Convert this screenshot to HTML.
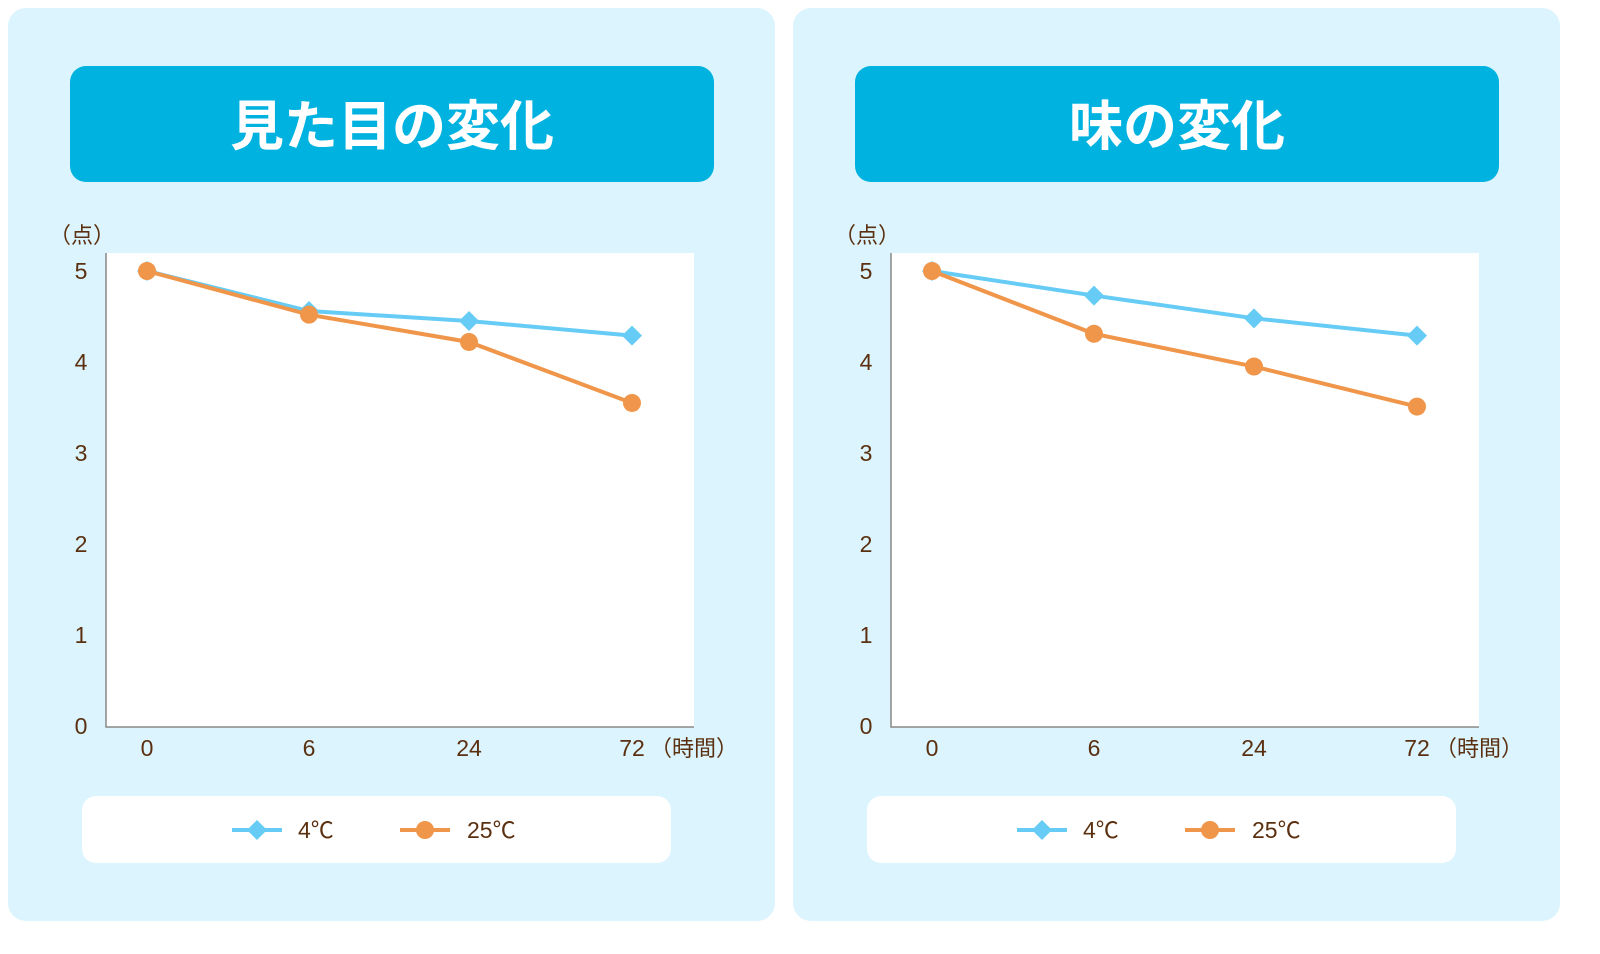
<!DOCTYPE html>
<html><head><meta charset="utf-8"><style>
body{margin:0;width:1600px;height:949px;background:#fff;font-family:"Liberation Sans","Noto Sans CJK JP",sans-serif;position:relative;overflow:hidden}
</style></head><body>
<svg id="s" width="1600" height="949" xmlns="http://www.w3.org/2000/svg"></svg>
<script>
const categories=["0","6","24","72"];
const yTicks=[0,1,2,3,4,5];
const titles=["見た目の変化","味の変化"];
const appear4=[5,4.56,4.45,4.29];
const appear25=[5,4.52,4.22,3.55];
const taste4=[5,4.73,4.48,4.29];
const taste25=[5,4.31,3.95,3.51];
const panels=[[appear4,appear25],[taste4,taste25]];
const svg=document.getElementById('s');
const NS="http://www.w3.org/2000/svg";
function mk(t,a,p,txt){const e=document.createElementNS(NS,t);for(const k in a)e.setAttribute(k,a[k]);if(txt!=null)e.textContent=txt;(p||svg).appendChild(e);return e;}
const xPos=[147,309,469,632];
function xs(i,o){return xPos[i]+o;}
function ys(v){return 726-v*91;}
const blue="#66ccf5",orange="#f0964a",txtc="#5a3010";
panels.forEach((ser,pi)=>{
  const o=pi*785;
  const g=mk('g',{});
  
  
  let r=mk('rect',{x:8+o,y:8,width:767,height:913,rx:18,fill:'#dcf4fd'},g);
  
  r=mk('rect',{x:70+o,y:66,width:644,height:116,rx:16,fill:'#00b2e0'},g);
  
  let t=mk('text',{x:392+o,y:145,'text-anchor':'middle','font-size':54,'font-weight':'bold',fill:'#fff'},g,titles[pi]);
  
  r=mk('rect',{x:106+o,y:253,width:588,height:474,fill:'#fff'},g);
  
  let l=mk('path',{d:`M${106+o},253V727H${694+o}`,stroke:'#888',fill:'none','stroke-width':1.5},g);
  
  t=mk('text',{x:82+o,y:243,'text-anchor':'middle','font-size':22,fill:txtc},g,'（点）');
  
  yTicks.forEach(v=>{const e=mk('text',{x:81+o,y:ys(v)+8,'text-anchor':'middle','font-size':23,fill:txtc},g,String(v));
    });
  categories.forEach((c,i)=>{const e=mk('text',{x:xs(i,o),y:756,'text-anchor':'middle','font-size':23,fill:txtc},g,c);
    });
  t=mk('text',{x:650+o,y:756,'font-size':22,fill:txtc},g,'（時間）');
  
  [[ser[0],blue,'d'],[ser[1],orange,'c']].forEach(([vals,col,m])=>{
    const p=mk('polyline',{points:vals.map((v,i)=>xs(i,o)+','+ys(v)).join(' '),fill:'none',stroke:col,'stroke-width':4},g);
    
    vals.forEach((v,i)=>{const x=xs(i,o),y=ys(v);let e;
      if(m=='d')e=mk('path',{d:`M${x},${y-10}L${x+10},${y}L${x},${y+10}L${x-10},${y}Z`,fill:col},g);
      else e=mk('circle',{cx:x,cy:y,r:9,fill:col},g);
      });
  });
  r=mk('rect',{x:82+o,y:796,width:589,height:67,rx:14,fill:'#fff'},g);
  
  let le=mk('g',{},g);
  mk('line',{x1:232+o,y1:830,x2:282+o,y2:830,stroke:blue,'stroke-width':4},le);
  mk('path',{d:`M${257+o},820L${267+o},830L${257+o},840L${247+o},830Z`,fill:blue},le);
  mk('text',{x:298+o,y:838,'font-size':23,fill:txtc},le,'4℃');
  le=mk('g',{},g);
  mk('line',{x1:400+o,y1:830,x2:450+o,y2:830,stroke:orange,'stroke-width':4},le);
  mk('circle',{cx:425+o,cy:830,r:9,fill:orange},le);
  mk('text',{x:467+o,y:838,'font-size':23,fill:txtc},le,'25℃');
});
</script>
</body></html>
